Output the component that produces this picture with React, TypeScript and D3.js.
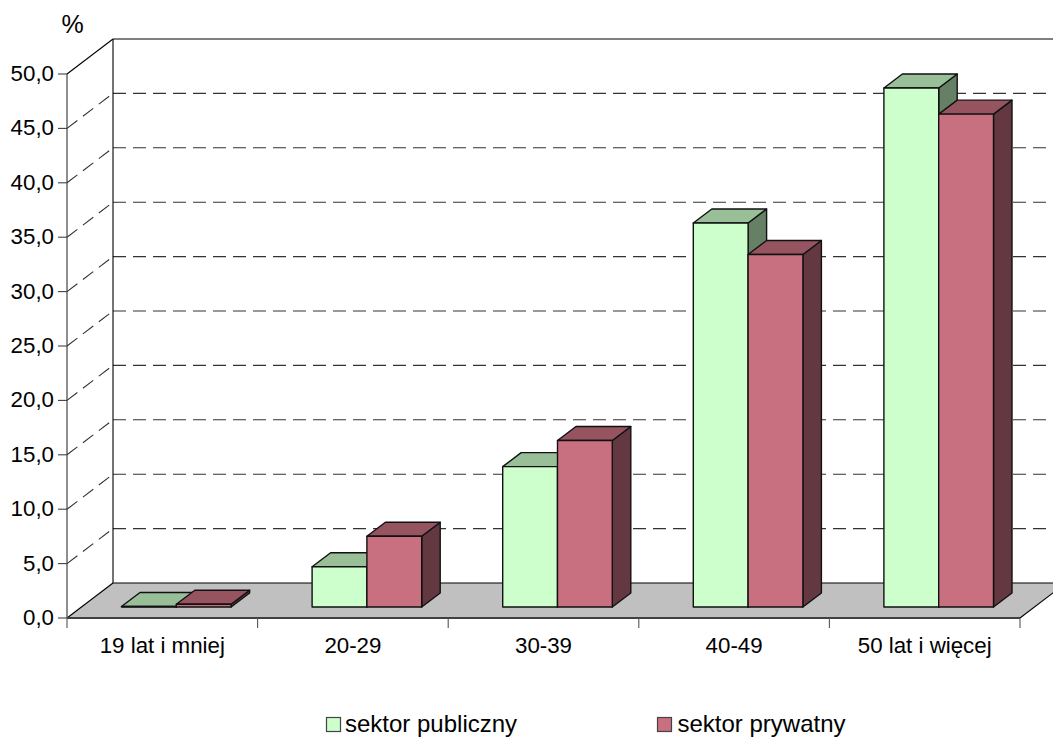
import React from "react";
import * as d3 from "d3";

const categories = ["19 lat i mniej", "20-29", "30-39", "40-49", "50 lat i więcej"];
const seriesNames = ["sektor publiczny", "sektor prywatny"];
const publiczny = [0.05, 3.7, 12.9, 35.3, 47.7];
const prywatny = [0.25, 6.5, 15.3, 32.4, 45.3];
const yTicks = [0, 5, 10, 15, 20, 25, 30, 35, 40, 45, 50];

const W = 1053, H = 738;
const frontX0 = 67, frontX1 = 1020, frontY0 = 618, frontY50 = 74;
const depthX = 46, depthY = -35;
const barDX = 18.5, barDY = -14;
const barShift = 14;
const font = "'Liberation Sans', Arial, sans-serif";

const green = { front: "#CCFFCC", top: "#99BF99", side: "#668066", stroke: "#111" };
const red = { front: "#C87080", top: "#965460", side: "#643840", stroke: "#111" };

function Bar({ x, w, yTop, yBase, c }: { x: number; w: number; yTop: number; yBase: number; c: typeof green }) {
  const pts = (a: number[][]) => a.map((p) => p.join(",")).join(" ");
  return (
    <g stroke={c.stroke} strokeWidth={1.4} strokeLinejoin="round">
      <polygon fill={c.side} points={pts([[x + w, yTop], [x + w + barDX, yTop + barDY], [x + w + barDX, yBase + barDY], [x + w, yBase]])} />
      <polygon fill={c.top} points={pts([[x, yTop], [x + barDX, yTop + barDY], [x + w + barDX, yTop + barDY], [x + w, yTop]])} />
      <rect x={x} y={yTop} width={w} height={yBase - yTop} fill={c.front} />
    </g>
  );
}

export default function App() {
  const yFront = d3.scaleLinear().domain([0, 50]).range([frontY0, frontY50]);
  const yBack = (v: number) => yFront(v) + depthY;
  const yBar = (v: number) => yFront(v) - 11;
  const x = d3.scaleBand<string>().domain(categories).range([frontX0, frontX1]);
  const barW = 54.8;
  const left = (c: string) => (x(c) as number) + x.bandwidth() / 2 - barW + barShift;
  const xEdges = [...categories.map((c) => x(c) as number), frontX1];

  return (
    <svg width={W} height={H} viewBox={`0 0 ${W} ${H}`} style={{ position: "absolute", left: 0, top: 0, background: "#fff" }}>
      <polygon
        points={[[frontX0, frontY0], [frontX1, frontY0], [frontX1 + depthX, frontY0 + depthY], [frontX0 + depthX, frontY0 + depthY]].map((p) => p.join(",")).join(" ")}
        fill="#C0C0C0"
      />
      {yTicks.slice(1, -1).map((t) => (
        <g key={t} stroke="#333" strokeWidth={1.1} strokeDasharray="13 7" fill="none">
          <line x1={frontX0} y1={yFront(t)} x2={frontX0 + depthX} y2={yBack(t)} />
          <line x1={frontX0 + depthX} y1={yBack(t)} x2={W + 20} y2={yBack(t)} />
        </g>
      ))}
      <g stroke="#000" strokeWidth={1.1} fill="none">
        <line x1={frontX0 + depthX} y1={yBack(50)} x2={W} y2={yBack(50)} />
        <line x1={frontX0} y1={yFront(50)} x2={frontX0 + depthX} y2={yBack(50)} />
        <line x1={frontX0 + depthX} y1={yBack(0)} x2={frontX0 + depthX} y2={yBack(50)} />
        <line x1={frontX0 + depthX} y1={yBack(0)} x2={W} y2={yBack(0)} />
        <line x1={frontX0} y1={frontY0} x2={frontX0 + depthX} y2={yBack(0)} />
        <line x1={frontX1} y1={frontY0} x2={frontX1 + depthX} y2={yBack(0)} />
      </g>
      <line x1={frontX0} y1={frontY50} x2={frontX0} y2={frontY0} stroke="#333" strokeWidth={1.1} />
      <line x1={frontX0} y1={frontY0} x2={frontX1} y2={frontY0} stroke="#404040" strokeWidth={1.8} />
      {yTicks.map((t) => (
        <g key={t}>
          <line x1={frontX0 - 9} y1={yFront(t)} x2={frontX0} y2={yFront(t)} stroke="#404040" strokeWidth={1.1} />
          <text x={54} y={yFront(t) + 7} textAnchor="end" fontFamily={font} fontSize={22.3} fill="#000">
            {d3.format(".1f")(t).replace(".", ",")}
          </text>
        </g>
      ))}
      {xEdges.map((e, i) => (
        <line key={i} x1={e} y1={frontY0} x2={e} y2={frontY0 + 10} stroke="#555" strokeWidth={1.1} />
      ))}
      {categories.map((c, i) => (
        <g key={c}>
          <Bar x={left(c)} w={barW} yTop={yBar(publiczny[i])} yBase={yBar(0)} c={green} />
          <Bar x={left(c) + barW} w={barW} yTop={yBar(prywatny[i])} yBase={yBar(0)} c={red} />
          <text x={(x(c) as number) + x.bandwidth() / 2} y={652.7} textAnchor="middle" fontFamily={font} fontSize={22.3} fill="#000">
            {c}
          </text>
        </g>
      ))}
      <text x={72.5} y={33} textAnchor="middle" fontFamily={font} fontSize={25} fill="#000">%</text>
      <rect x={326.5} y={717.5} width={14} height={14} fill={green.front} stroke="#444" strokeWidth={1.2} />
      <text x={345} y={732} fontFamily={font} fontSize={24} fill="#000">{seriesNames[0]}</text>
      <rect x={657.5} y={717.5} width={14} height={14} fill={red.front} stroke="#444" strokeWidth={1.2} />
      <text x={677.5} y={732} fontFamily={font} fontSize={24} fill="#000">{seriesNames[1]}</text>
    </svg>
  );
}
